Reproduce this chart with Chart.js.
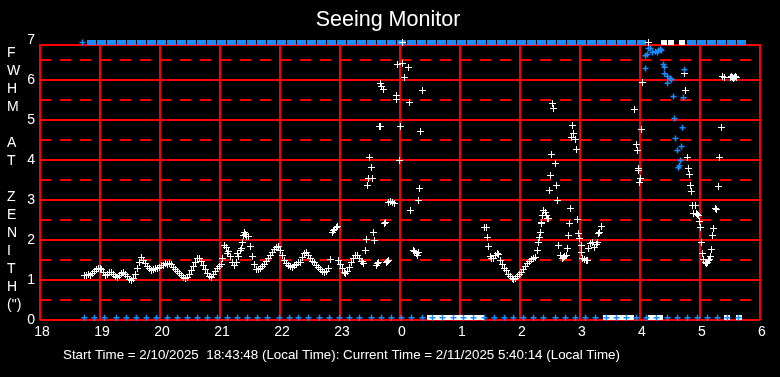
<!DOCTYPE html>
<html><head><meta charset="utf-8">
<script src="https://cdn.jsdelivr.net/npm/chart.js@4"></script>
<style>html,body{margin:0;padding:0;background:#000;overflow:hidden}</style>
</head><body>
<canvas id="c" width="780" height="377"></canvas>
<script>
// ---- text ----
const chartTitle = 'Seeing Monitor';
const yAxisLetters = ['F','W','H','M','','A','T','','Z','E','N','I','T','H','(")'];
const footerText = 'Start Time = 2/10/2025  18:43:48 (Local Time): Current Time = 2/11/2025 5:40:14 (Local Time)';
// x values are minutes after 18:00 local time
const xTickLabels = ['18','19','20','21','22','23','0','1','2','3','4','5','6'];
const yTickLabels = ['0','1','2','3','4','5','6','7'];
const halfLines = [0.5,1.5,2.5,3.5,4.5,5.5,6.5];
const frameTop = 6.875;

// ---- white FWHM measurements ----
const seg1Min = [44,46,48,50,52,54,56,58,60,61,63,65,67,69,71,73,75,77,79,81,83,85,87,89,91,93,95,97,99,101,103,105,107,109,111,113,115,117,119,121,123,125,127,129,131,133,135,137,139,141,143,145,147,149,151,153,155,157,159,161,163,165,167,169,171,173,175,177,179,181,182,184,186,187,188,190,192,194,196,197,198,200,201,202,203,204,205,206,208,210,212,214,216,218,220,222,224,226,228,230,232,234,236,238,240,242,244,246,248,250,252,254,256,258,260,262,264,266,268,270,272,274,276,278,280,282,284,286,288,290];
const seg1Fwhm = [1.13,1.12,1.15,1.13,1.18,1.22,1.27,1.30,1.30,1.27,1.20,1.12,1.15,1.20,1.20,1.15,1.10,1.08,1.12,1.17,1.20,1.15,1.10,1.03,1.00,1.05,1.15,1.30,1.45,1.58,1.50,1.42,1.35,1.30,1.25,1.27,1.30,1.30,1.33,1.37,1.38,1.42,1.40,1.42,1.40,1.33,1.27,1.22,1.17,1.12,1.08,1.05,1.07,1.15,1.25,1.35,1.45,1.55,1.55,1.48,1.37,1.27,1.17,1.10,1.07,1.15,1.22,1.30,1.35,1.40,1.55,1.88,1.82,1.67,1.72,1.60,1.45,1.38,1.45,1.67,1.60,1.75,1.80,1.95,2.12,2.20,2.15,2.10,2.10,1.85,1.60,1.40,1.27,1.27,1.30,1.35,1.40,1.48,1.55,1.63,1.70,1.78,1.83,1.85,1.75,1.62,1.50,1.42,1.38,1.35,1.33,1.38,1.40,1.45,1.45,1.58,1.67,1.70,1.63,1.55,1.48,1.45,1.38,1.32,1.27,1.22,1.20,1.22,1.30,1.52];
const seg2Min = [292,293,294,296,297,298,300,302,304,305,307,309,311,313,315,317,319,321,322,323];
const seg2Fwhm = [2.20,2.25,2.28,2.33,2.35,1.50,1.40,1.30,1.20,1.17,1.22,1.32,1.45,1.55,1.63,1.62,1.55,1.47,1.47,1.42];
const seg3Min = [325,326,327,328,329,331,332,333,334,336,337,338,339,340,340,341,343,344,345,346,347,348,348,350,352,354,356,356,357,359,360,362,364,368,369,370,373,374,376,377,378,378,379,380,382];
const seg3Fwhm = [1.75,2.03,3.37,3.55,4.07,3.82,3.55,2.20,2.00,1.37,1.42,1.45,4.85,4.85,5.92,5.85,5.77,2.42,2.45,1.45,1.48,1.50,2.95,2.97,2.95,2.93,5.62,5.53,6.40,4.00,4.85,6.42,6.07,6.32,5.45,2.75,1.75,1.72,1.68,1.63,1.70,3.00,3.30,4.72,5.74];
const seg4Min = [444,446,447,448,450,451,453,455,457,458,460,462,464,466,468,470,472,473,475,477,479,481,483,485,487,489,491,493,495,497,498,499,500,501,501,502,503,505,506,507,508,509,510,511,512,513,515,516,517,518,520,522,523,524,526,527,528,529,530,531,532,533,535,536,537,538,539,541,541,542,544,546,547,548,550,552,554,556,557,558,559,561];
const seg4Fwhm = [2.33,2.33,2.07,1.85,1.60,1.55,1.55,1.62,1.68,1.65,1.50,1.40,1.30,1.25,1.15,1.10,1.05,1.02,1.05,1.10,1.15,1.20,1.27,1.35,1.42,1.47,1.52,1.55,1.58,1.75,1.95,2.07,2.20,2.43,2.45,2.63,2.75,2.70,2.62,2.55,2.55,3.24,3.62,4.15,5.42,5.30,3.92,3.37,2.99,1.87,1.63,1.55,1.57,1.60,1.63,1.80,2.12,2.43,2.80,4.58,4.88,4.67,4.52,4.27,2.52,2.17,2.05,1.87,1.70,1.55,1.52,1.50,1.50,1.80,1.92,1.95,1.82,1.90,1.95,2.17,2.20,2.35];
const seg5Min = [594,596,597,598,598,599,600,601,602,644,645,647,648,649,650,651,652,653,655,656,657,658,659,660,661,662,663,665,666,667,668,669,670,671,672,673,675,676,678,679,681,682,684,690,691,692,693,694,695,696];
const seg5Fwhm = [5.27,4.40,4.25,3.80,3.75,3.45,3.55,4.77,5.95,6.17,5.74,4.07,3.80,3.65,3.37,3.22,2.87,2.68,2.87,2.68,2.65,2.63,2.47,2.33,1.95,1.68,1.53,1.45,1.42,1.45,1.50,1.53,1.60,1.78,2.12,2.30,2.80,2.78,3.35,4.07,4.82,6.10,6.07,6.08,6.10,6.08,6.06,6.08,6.10,6.07];

// ---- blue FWHM measurements ----
const blueMin = [605,605,607,608,610,612,615,617,618,620,621,623,624,624,627,627,630,631,633,634,635,637,638,639,640,641,642,643,644];
const blueFwhm = [6.62,6.30,6.65,6.80,6.80,6.70,6.72,6.70,6.75,6.78,6.75,6.40,6.33,6.17,6.10,5.93,6.05,6.02,5.60,5.05,4.55,4.25,3.82,3.87,4.00,4.35,4.82,5.57,6.27];

// ---- status rows (top and bottom of the plot) ----
const topRowValue = 6.95;
const bottomRowValue = 0.07;
const topBlueCrossMin = [42];
const topBlueMin = [51,61,71,81,91,101,111,121,131,141,151,161,171,181,191,201,211,221,231,241,251,261,271,281,291,301,311,321,331,341,351,361,371,381,391,401,411,421,431,441,451,461,471,481,491,501,511,521,531,541,551,561,571,581,591,601,651,661,671,681,691,701];
const topWhiteCrossMin = [362,608];
const topWhiteMin = [623,630,641];
const bottomBlueMin = [44,54,64,76,86,96,106,116,127,137,147,157,167,177,187,197,207,217,227,239,249,258,268,279,289,299,309,319,331,341,351,361,371,382,392,402,413,423,433,444,454,464,473,483,493,503,515,525,535,545,555,566,576,586,596,606,616,627,637,647,657,667,677,687,698];
const bottomWhiteMin = [389,394,399,404,409,414,419,424,429,434,439,440,565,570,575,580,585,590,610,615,619,686,698];

// ---- styles ----
const RED = '#ff0000';
const BLUE = '#1a8cff';
const WHITE = '#ffffff';
function rectImage(w, h, color) {
  const c = document.createElement('canvas');
  c.width = w; c.height = h;
  const g = c.getContext('2d');
  g.fillStyle = color; g.fillRect(0, 0, w, h);
  return c;
}
function crossImage(size, color) {
  const c = document.createElement('canvas');
  c.width = size; c.height = size;
  const g = c.getContext('2d');
  const m = Math.floor(size / 2);
  g.fillStyle = color;
  g.fillRect(0, m, size, 1);
  g.fillRect(m, 0, 1, size);
  return c;
}
const topBlueCell = rectImage(9, 5, BLUE);
const topWhiteCell = rectImage(6, 5, WHITE);
const bottomWhiteCell = rectImage(6, 5, WHITE);
const whiteCross = crossImage(7, WHITE);

const pts = (xs, ys) => xs.map((x, i) => ({x: x, y: ys[i]}));
const row = (xs, v) => xs.map(x => ({x: x, y: v}));

function imgSet(data, img) {
  return {data, pointStyle: img, pointRadius: 3, borderWidth: 0, showLine: false, clip: false};
}
function crossSet(data, color) {
  return {data, pointStyle: 'cross', pointRadius: 3, borderColor: color, backgroundColor: color,
          borderWidth: 1.5, showLine: false, clip: false};
}

const whiteData = [].concat(pts(seg1Min, seg1Fwhm), pts(seg2Min, seg2Fwhm), pts(seg3Min, seg3Fwhm),
                            pts(seg4Min, seg4Fwhm), pts(seg5Min, seg5Fwhm));

const datasets = [
  crossSet(row(bottomBlueMin, bottomRowValue), BLUE),
  imgSet(row(topWhiteCrossMin, topRowValue), whiteCross),
  imgSet(row(topWhiteMin, topRowValue), topWhiteCell),
  imgSet(row(bottomWhiteMin, bottomRowValue), bottomWhiteCell),
  crossSet(row(topBlueCrossMin, topRowValue), BLUE),
  imgSet(row(topBlueMin, topRowValue), topBlueCell),
  crossSet(pts(blueMin, blueFwhm), BLUE),
  imgSet(whiteData, whiteCross)
];

const FONT = '"Liberation Sans", Arial, sans-serif';
Chart.defaults.font.family = FONT;

const decor = {
  id: 'decor',
  beforeDraw(chart) {
    const c = chart.ctx;
    c.save(); c.fillStyle = '#000'; c.fillRect(0, 0, chart.width, chart.height); c.restore();
  },
  beforeDatasetsDraw(chart) {
    const ctx = chart.ctx, a = chart.chartArea, y = chart.scales.y;
    ctx.save();
    ctx.strokeStyle = RED; ctx.lineWidth = 2;
    ctx.setLineDash([11, 9]);
    halfLines.forEach(v => {
      const py = Math.round(y.getPixelForValue(v));
      ctx.beginPath(); ctx.moveTo(a.left, py); ctx.lineTo(a.right, py); ctx.stroke();
    });
    ctx.setLineDash([]);
    const ft = Math.round(y.getPixelForValue(frameTop));
    ctx.fillStyle = '#000';
    ctx.fillRect(a.left - 2, a.top - 2, a.right - a.left + 4, ft - a.top + 1);
    ctx.beginPath(); ctx.moveTo(a.left - 1, ft); ctx.lineTo(a.right + 1, ft); ctx.stroke();
    ctx.restore();
    // pixel-align marker images
    ctx.imageSmoothingEnabled = false;
    ctx.translate(0.5, 0.5);
  },
  afterDatasetsDraw(chart) {
    chart.ctx.translate(-0.5, -0.5);
    chart.ctx.imageSmoothingEnabled = true;
  },
  afterDraw(chart) {
    const ctx = chart.ctx;
    ctx.save();
    ctx.fillStyle = WHITE;
    ctx.textBaseline = 'middle';
    ctx.textAlign = 'center';
    ctx.font = '21.5px ' + FONT;
    ctx.fillText(chartTitle, 388, 20);
    ctx.textAlign = 'left';
    ctx.font = '14px ' + FONT;
    yAxisLetters.forEach((t, i) => { if (t) ctx.fillText(t, 7, 53 + 18 * i); });
    ctx.font = '13px ' + FONT;
    const w = ctx.measureText(footerText).width;
    const target = 557;
    ctx.translate(63, 355);
    ctx.scale(target / w, 1);
    ctx.fillText(footerText, 0, 0);
    ctx.restore();
  }
};

new Chart(document.getElementById('c'), {
  type: 'scatter',
  data: {datasets},
  options: {
    responsive: false, animation: false, events: [], devicePixelRatio: 1,
    layout: {padding: {top: 40, right: 20, left: 0, bottom: 0}},
    plugins: {legend: {display: false}, tooltip: {enabled: false}, title: {display: false}},
    scales: {
      x: {
        type: 'linear', min: 0, max: 720,
        ticks: {stepSize: 60, color: WHITE, font: {size: 14}, padding: 4, maxRotation: 0, autoSkip: false,
                labelOffset: 2, callback: v => xTickLabels[Math.round(v / 60)]},
        grid: {color: RED, lineWidth: 2, drawTicks: false},
        border: {display: false},
        afterFit: s => { s.height = 57; }
      },
      y: {
        min: 0, max: 7,
        ticks: {stepSize: 1, color: WHITE, font: {size: 14}, padding: 5, callback: v => yTickLabels[Math.round(v)]},
        grid: {color: c => (c.tick && c.tick.value >= 7) ? 'rgba(0,0,0,0)' : RED, lineWidth: 2, drawTicks: false},
        border: {display: false},
        afterFit: s => { s.width = 40; }
      }
    }
  },
  plugins: [decor]
});
</script>
</body></html>
